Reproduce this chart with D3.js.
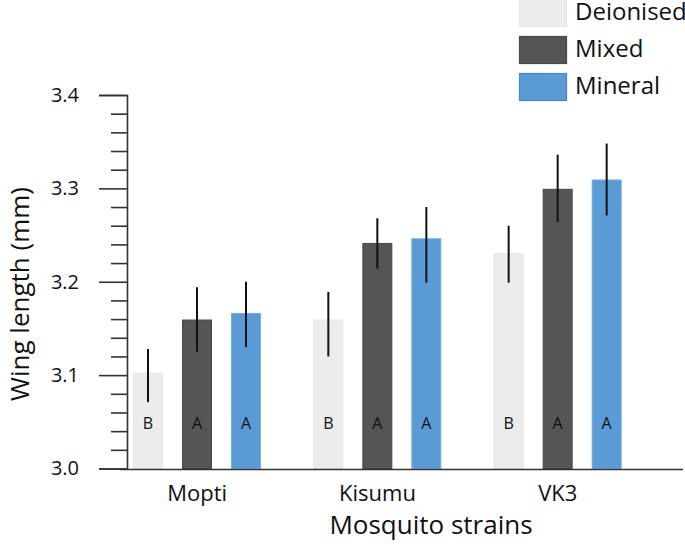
<!DOCTYPE html>
<html>
<head>
<meta charset="utf-8">
<script src="https://cdn.jsdelivr.net/npm/d3@7"></script>
<style>
  html, body { margin: 0; padding: 0; background: #fff; }
  svg { display: block; }
  text { font-family: "Open Sans", sans-serif; fill: #111; }
</style>
</head>
<body>
<svg id="chart" width="685" height="555"></svg>
<script>
const strains = ["Mopti", "Kisumu", "VK3"];
const waterTypes = ["Deionised", "Mixed", "Mineral"];
const deionised = [3.102, 3.159, 3.230];
const mixed = [3.159, 3.241, 3.299];
const mineral = [3.166, 3.246, 3.309];
const deionisedLow = [3.071, 3.120, 3.199];
const deionisedHigh = [3.128, 3.189, 3.260];
const mixedLow = [3.125, 3.214, 3.264];
const mixedHigh = [3.194, 3.268, 3.336];
const mineralLow = [3.130, 3.199, 3.271];
const mineralHigh = [3.200, 3.280, 3.348];
const letters = [["B", "A", "A"], ["B", "A", "A"], ["B", "A", "A"]];
const yMajorTicks = [3.0, 3.1, 3.2, 3.3, 3.4];
const yMinorTicks = [3.02, 3.04, 3.06, 3.08, 3.12, 3.14, 3.16, 3.18, 3.22, 3.24, 3.26, 3.28, 3.32, 3.34, 3.36, 3.38];
const yLabel = "Wing length (mm)";
const xLabel = "Mosquito strains";

const fills = { Deionised: "#ececec", Mixed: "#555555", Mineral: "#5b9bd5" };
const strokes = { Deionised: "#e6e6e6", Mixed: "#484848", Mineral: "#74adde" };

const seriesVals = { Deionised: deionised, Mixed: mixed, Mineral: mineral };
const seriesLow = { Deionised: deionisedLow, Mixed: mixedLow, Mineral: mineralLow };
const seriesHigh = { Deionised: deionisedHigh, Mixed: mixedHigh, Mineral: mineralHigh };

const rows = [];
strains.forEach((s, i) => {
  waterTypes.forEach((w, j) => {
    rows.push({ strain: s, type: w, value: seriesVals[w][i], low: seriesLow[w][i], high: seriesHigh[w][i], letter: letters[i][j] });
  });
});

const svg = d3.select("#chart");

const y = d3.scaleLinear().domain([3.0, 3.4]).range([468.5, 95]);
const x0 = d3.scaleBand().domain(strains).range([107, 648]).padding(0);
const x1 = d3.scaleBand().domain(waterTypes).range([26, 154]).paddingInner(0.388).paddingOuter(0);

// bars
const g = svg.append("g");
g.selectAll("rect.bar").data(rows).enter().append("rect")
  .attr("class", "bar")
  .attr("x", d => x0(d.strain) + x1(d.type) + 0.5)
  .attr("width", x1.bandwidth() - 1)
  .attr("y", d => y(d.value))
  .attr("height", d => y(3.0) - y(d.value))
  .attr("fill", d => fills[d.type])
  .attr("stroke", d => strokes[d.type])
  .attr("stroke-width", 1);

// error bars
g.selectAll("line.err").data(rows).enter().append("line")
  .attr("class", "err")
  .attr("x1", d => x0(d.strain) + x1(d.type) + x1.bandwidth() / 2)
  .attr("x2", d => x0(d.strain) + x1(d.type) + x1.bandwidth() / 2)
  .attr("y1", d => y(d.low))
  .attr("y2", d => y(d.high))
  .attr("stroke", "#111")
  .attr("stroke-width", 2);

// letters
g.selectAll("text.letter").data(rows).enter().append("text")
  .attr("class", "letter")
  .attr("x", d => x0(d.strain) + x1(d.type) + x1.bandwidth() / 2)
  .attr("y", 429)
  .attr("text-anchor", "middle")
  .style("font-size", "16px")
  .text(d => d.letter);

// y axis
const yAxisMajor = d3.axisLeft(y).tickValues(yMajorTicks).tickSize(28).tickPadding(20).tickFormat(d3.format(".1f"));
const yAxisMinor = d3.axisLeft(y).tickValues(yMinorTicks).tickSize(16).tickFormat("");
const ya = svg.append("g").attr("transform", "translate(127,0)").call(yAxisMajor);
ya.select(".domain").attr("stroke", "#333").attr("stroke-width", 1.6);
ya.selectAll(".tick line").attr("stroke", "#333").attr("stroke-width", 1.6);
ya.selectAll(".tick text").style("font-size", "20px").style("font-family", "'Open Sans', sans-serif").attr("fill", "#111");
const ym = svg.append("g").attr("transform", "translate(127,0)").call(yAxisMinor);
ym.select(".domain").remove();
ym.selectAll(".tick line").attr("stroke", "#333").attr("stroke-width", 1.6);

// x axis
const xAxis = d3.axisBottom(x0).tickSize(0).tickPadding(16);
const xa = svg.append("g").attr("transform", "translate(0,469)").call(xAxis);
xa.select(".domain").attr("d", "M120,0.5H683").attr("stroke", "#333").attr("stroke-width", 1.6);
xa.selectAll(".tick text").style("font-size", "22px").style("font-family", "'Open Sans', sans-serif").attr("fill", "#111");

// axis titles
svg.append("text")
  .attr("transform", "translate(29,294) rotate(-90)")
  .attr("text-anchor", "middle")
  .style("font-size", "26px")
  .text(yLabel);
svg.append("text")
  .attr("x", 431).attr("y", 534)
  .attr("text-anchor", "middle")
  .style("font-size", "26px")
  .text(xLabel);

// legend
const legend = svg.append("g");
const ly = d3.scalePoint().domain(waterTypes).range([-1, 73]);
legend.selectAll("rect").data(waterTypes).enter().append("rect")
  .attr("x", 519.5).attr("y", d => ly(d) + 0.5)
  .attr("width", 47).attr("height", 27)
  .attr("fill", d => fills[d])
  .attr("stroke", d => d === "Mineral" ? "#4a86cf" : strokes[d])
  .attr("stroke-width", 1.2);
legend.selectAll("text").data(waterTypes).enter().append("text")
  .attr("x", 575).attr("y", d => ly(d) + 21)
  .style("font-size", "24px")
  .text(d => d);
</script>
</body>
</html>
